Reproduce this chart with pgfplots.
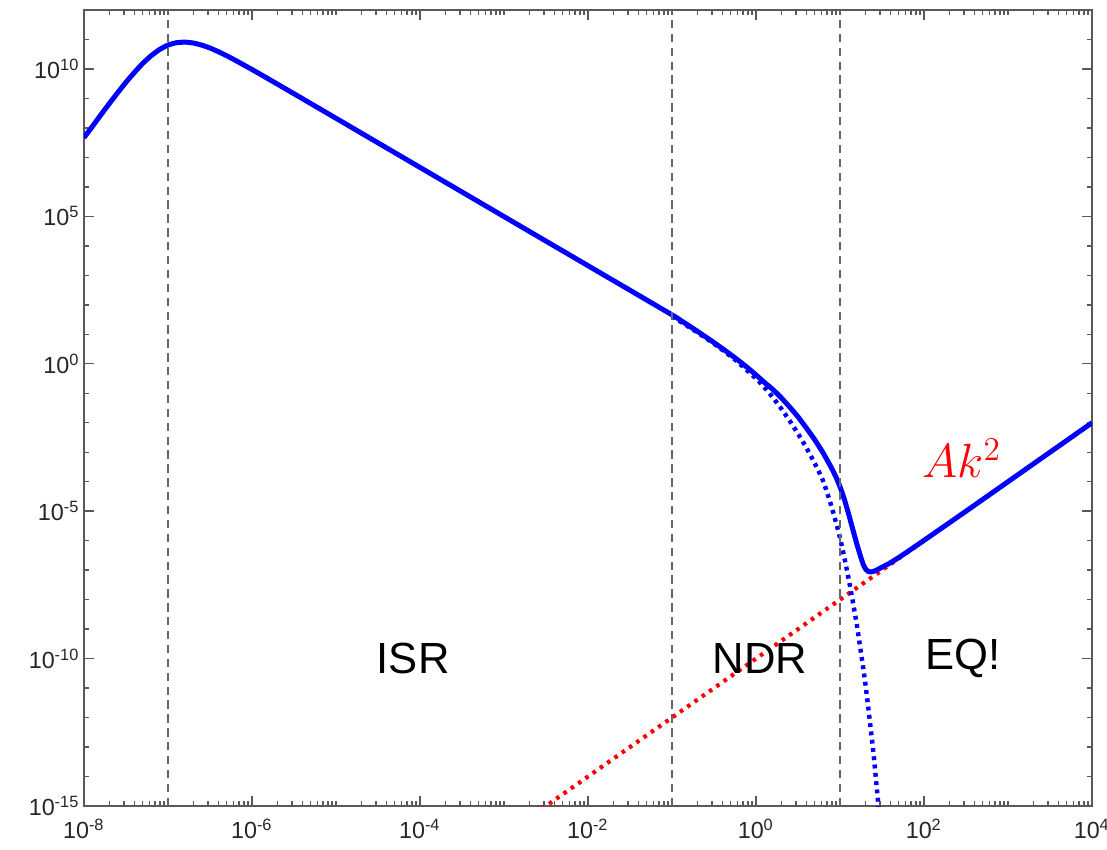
\documentclass[border=0pt]{standalone}
\usepackage{fontspec}
\setmainfont{Liberation Sans}
\usepackage{pgfplots}
\pgfplotsset{compat=1.18}
\usepackage{pgfplotstable}

\def\mxt{}
\foreach \e in {-8,...,3}{\foreach \m in {2,...,9}{\xdef\mxt{\mxt\m e\e,}}}
\xdef\mxt{\mxt 1e-7,1e-5,1e-3,1e-1,1e1,1e3}

% log10(k)  log10(E)
\pgfplotstableread{
lx ly
-8.0 7.67
-7.9 8.05
-7.8 8.44
-7.7 8.82
-7.6 9.19
-7.5 9.55
-7.4 9.88
-7.3 10.19
-7.2 10.45
-7.1 10.66
-7.0 10.81
-6.9 10.89
-6.8 10.91
-6.7 10.88
-6.6 10.81
-6.5 10.71
-6.4 10.585
-6.3 10.445
-6.2 10.296
-6.0 9.981
-5.8 9.655
-5.5 9.159
-5.0 8.327
-4.0 6.66
-3.0 4.993
-2.0 3.327
-1.0 1.66
-0.9 1.478
-0.8 1.294
-0.7 1.105
-0.6 0.913
-0.5 0.717
-0.4 0.515
-0.3 0.308
-0.2 0.092
-0.1 -0.135
0.0 -0.377
0.1 -0.633
0.2 -0.87
0.3 -1.152
0.4 -1.463
0.5 -1.80
0.6 -2.18
0.7 -2.58
0.8 -3.03
0.9 -3.54
0.95 -3.83
1.0 -4.17
1.05 -4.58
1.1 -5.07
1.15 -5.59
1.2 -6.11
1.25 -6.58
1.28 -6.83
1.31 -6.98
1.34 -7.05
1.37 -7.06
1.42 -7.02
1.5 -6.90
1.6 -6.75
1.7 -6.57
1.8 -6.38
2.0 -5.99
2.5 -5.0
3.0 -4.0
3.5 -3.0
4.0 -2.0
}\solid

\pgfplotstableread{
lx ly
-1.0 1.61
-0.75 1.16
-0.5 0.68
-0.25 0.14
0.0 -0.50
0.1 -0.80
0.2 -1.14
0.3 -1.52
0.4 -1.93
0.5 -2.37
0.6 -2.85
0.7 -3.38
0.8 -3.98
0.9 -4.85
1.0 -5.90
1.1 -7.25
1.2 -8.85
1.3 -10.8
1.4 -13.25
1.5 -16.3
}\dotted

\begin{document}
\begin{tikzpicture}
\begin{axis}[name=ax, scale only axis, width=362.88pt, height=286.56pt,
  xmode=log, ymode=log, xmin=1e-8, xmax=1e4, ymin=1e-15, ymax=1e12,
  xtick={1e-8,1e-6,1e-4,1e-2,1,1e2,1e4},
  xticklabels={10\textsuperscript{-8},10\textsuperscript{-6},10\textsuperscript{-4},10\textsuperscript{-2},10\textsuperscript{0},10\textsuperscript{2},10\textsuperscript{4}},
  ytick={1e-15,1e-10,1e-5,1,1e5,1e10},
  yticklabels={10\textsuperscript{-15},10\textsuperscript{-10},10\textsuperscript{-5},10\textsuperscript{0},10\textsuperscript{5},10\textsuperscript{10}},
  minor xtick/.expanded=\mxt,
  minor ytick={1e-14,1e-13,1e-12,1e-11,1e-9,1e-8,1e-7,1e-6,1e-4,1e-3,1e-2,1e-1,1e1,1e2,1e3,1e4,1e6,1e7,1e8,1e9,1e11},
  tick align=inside, major tick length=3.6pt, minor tick length=1.8pt,
  axis line style={black!65, line width=0.6pt},
  every tick/.style={black!65, line width=0.5pt},
  tick label style={font=\fontsize{8.4}{9}\selectfont, text=black!85},
  yticklabel style={xshift=2pt},
  xticklabel style={yshift=-1.3pt},
  /pgf/number format/assume math mode=true,
]
\addplot[red, line width=1.5pt, dash pattern=on 1.3pt off 1.9pt] coordinates {(2.818e-3,7.94e-16) (1e4,1e-2)};
\addplot[blue, line width=1.6pt, dash pattern=on 1.4pt off 1.6pt, smooth, tension=0.3] table[x expr={10^(\thisrow{lx})}, y expr={10^(\thisrow{ly})}] {\dotted};
\addplot[blue, line width=1.8pt, line join=round, smooth, tension=0.3] table[x expr={10^(\thisrow{lx})}, y expr={10^(\thisrow{ly})}] {\solid};
\addplot[black!60, line width=0.7pt, dash pattern=on 3pt off 2pt] coordinates {(1e-7,1e-15) (1e-7,1e12)};
\addplot[black!60, line width=0.7pt, dash pattern=on 3pt off 2pt] coordinates {(1e-1,1e-15) (1e-1,1e12)};
\addplot[black!60, line width=0.7pt, dash pattern=on 3pt off 2pt] coordinates {(1e1,1e-15) (1e1,1e12)};
\node at (axis cs:8.3e-5,1e-10) {\fontsize{15.7}{18}\selectfont ISR};
\node at (axis cs:1.12,1e-10) {\fontsize{15.7}{18}\selectfont NDR};
\node at (axis cs:291,1e-10) {\fontsize{15.7}{18}\selectfont EQ!};
\node[red] at (axis cs:283,6.3e-4) {\fontsize{17.4}{20}\selectfont $Ak^2$};
\end{axis}
\pgfresetboundingbox
\path[use as bounding box] ([xshift=-30.24pt,yshift=-15.48pt]ax.south west) rectangle ([xshift=5.4pt,yshift=3.6pt]ax.north east);
\end{tikzpicture}
\end{document}
